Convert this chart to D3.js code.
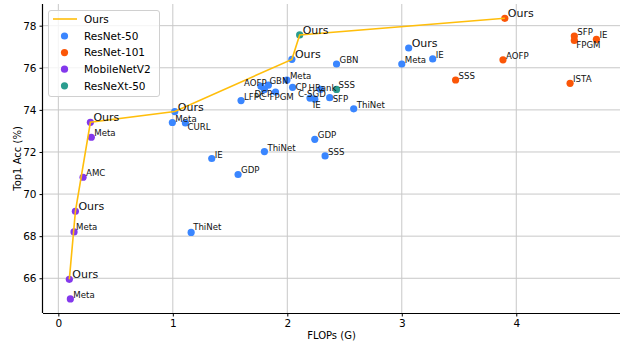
<!DOCTYPE html>
<html><head><meta charset="utf-8">
<script src="https://cdn.jsdelivr.net/npm/d3@7"></script>
<style>body{margin:0;background:#fff}svg{display:block;font-family:"DejaVu Sans",sans-serif}</style>
</head><body><svg id="c" width="621" height="341"></svg>
<script>
// ---- data ----
const seriesNames = ["ResNet-50", "ResNet-101", "MobileNetV2", "ResNeXt-50"];
const seriesColors = ["#3a86ff", "#fb5607", "#8338ec", "#2a9d8f"];

const r50Labels = ["Ours","Meta","CURL","IE","GDP","ThiNet","GDP","SSS","ThiNet","LFPC","AOFP","GBN","DCP","FPGM","Meta","CP","C-SGD","IE","HRank","SFP","ThiNet","GBN","Ours","Meta","Ours","IE"];
const r50Flops  = [1.017,0.996,1.11,1.34,1.57,1.80,2.24,2.33,1.16,1.596,1.77,1.835,1.80,1.897,1.997,2.046,2.198,2.24,2.29,2.37,2.58,2.43,2.04,3.00,3.06,3.27];
const r50Acc    = [73.92,73.40,73.38,71.69,70.93,72.02,72.60,71.81,68.18,74.44,75.12,75.18,74.97,74.85,75.42,75.07,74.56,74.51,74.98,74.58,74.05,76.18,76.40,76.18,76.94,76.42];

const r101Labels = ["Ours","AOFP","SSS","ISTA","SFP","FPGM","IE"];
const r101Flops  = [3.90,3.884,3.47,4.47,4.507,4.507,4.70];
const r101Acc    = [78.35,76.38,75.42,75.26,77.51,77.30,77.35];

const mbLabels = ["Ours","Meta","Meta","Ours","AMC","Meta","Ours"];
const mbFlops  = [0.096,0.105,0.137,0.149,0.216,0.288,0.28];
const mbAcc    = [65.95,65.02,68.20,69.18,70.80,72.70,73.41];

const rxLabels = ["Ours","SSS"];
const rxFlops  = [2.108,2.43];
const rxAcc    = [77.56,74.97];

const oursFlops = [0.096,0.149,0.28,1.017,2.04,2.108,3.90];
const oursAcc   = [65.95,69.18,73.41,73.92,76.40,77.56,78.35];

const xTicks = [0,1,2,3,4];
const yTicks = [66,68,70,72,74,76,78];

// label nudges (pixels) — styling only
const nudges = {
  "0-2":[2,7], "0-10":[-17,0], "0-11":[1,-1], "0-12":[-10,8], "0-13":[-6,8],
  "0-15":[3,3], "0-16":[-12,-1], "0-17":[-2,9], "0-18":[-12,2], "0-19":[3,4],
  "1-5":[2,8], "3-1":[2,-1], "2-2":[2,-2], "0-8":[2,-2]
};

// ---- chart ----
const svg = d3.select("#c");
const L=43, R=620, T=4, B=313;
const x = d3.scaleLinear().domain([-0.134, 4.906]).range([L, R]);
const y = d3.scaleLinear().domain([64.35, 79.03]).range([B, T]);

// grid
svg.append("g").selectAll("line").data(xTicks).join("line")
  .attr("x1", d=>x(d)).attr("x2", d=>x(d)).attr("y1", T).attr("y2", B)
  .attr("stroke", "#c8c8c8").attr("stroke-width", 1);
svg.append("g").selectAll("line").data(yTicks).join("line")
  .attr("x1", L).attr("x2", R).attr("y1", d=>y(d)).attr("y2", d=>y(d))
  .attr("stroke", "#c8c8c8").attr("stroke-width", 1);

// axes
const xa = svg.append("g").attr("transform", `translate(0,${B})`)
  .call(d3.axisBottom(x).tickValues(xTicks).tickSize(3.5).tickPadding(3).tickFormat(d3.format("d")));
const ya = svg.append("g").attr("transform", `translate(${L},0)`)
  .call(d3.axisLeft(y).tickValues(yTicks).tickSize(3.5).tickPadding(3).tickFormat(d3.format("d")));
[xa, ya].forEach(a=>{
  a.select(".domain").attr("stroke", "#000").attr("stroke-width", 1.2);
  a.selectAll(".tick line").attr("stroke", "#000");
  a.selectAll(".tick text").attr("font-size", 10.5).attr("fill", "#000").attr("font-family", "DejaVu Sans");
});
xa.select(".domain").attr("d", `M${L},0.5H${R}`);
ya.select(".domain").attr("d", `M-0.5,${T}V${B}`);

svg.append("text").attr("x", (L+R)/2).attr("y", 339).attr("text-anchor", "middle")
  .attr("font-size", 10).text("FLOPs (G)");
svg.append("text").attr("transform", `translate(21,${(T+B)/2}) rotate(-90)`)
  .attr("text-anchor", "middle").attr("font-size", 10).text("Top1 Acc (%)");

// points
const allSeries = [
  [r50Labels, r50Flops, r50Acc],
  [r101Labels, r101Flops, r101Acc],
  [mbLabels, mbFlops, mbAcc],
  [rxLabels, rxFlops, rxAcc]
];
allSeries.forEach(([lab, fx, ay], si)=>{
  svg.append("g").selectAll("circle").data(fx.map((f,i)=>({f, a:ay[i]}))).join("circle")
    .attr("cx", d=>x(d.f)).attr("cy", d=>y(d.a)).attr("r", 3.6)
    .attr("fill", seriesColors[si]);
});

// ours line
svg.append("path").datum(oursFlops.map((f,i)=>[f, oursAcc[i]]))
  .attr("d", d3.line().x(d=>x(d[0])).y(d=>y(d[1])))
  .attr("fill", "none").attr("stroke", "#ffbe0b").attr("stroke-width", 1.6);

// labels
allSeries.forEach(([lab, fx, ay], si)=>{
  lab.forEach((t,i)=>{
    const big = t === "Ours";
    const n = nudges[`${si}-${i}`] || [3,-1];
    svg.append("text").attr("x", x(fx[i]) + n[0]).attr("y", y(ay[i]) + n[1])
      .attr("font-size", big ? 11 : 8.6).attr("fill", "#111").text(t);
  });
});

// legend
const lg = svg.append("g");
lg.append("rect").attr("x", 48.5).attr("y", 10.5).attr("width", 111).attr("height", 86)
  .attr("rx", 2.5).attr("fill", "#fff").attr("fill-opacity", 0.8).attr("stroke", "#d0d0d0");
lg.append("line").attr("x1", 53).attr("x2", 77).attr("y1", 19).attr("y2", 19)
  .attr("stroke", "#ffbe0b").attr("stroke-width", 1.6);
lg.append("text").attr("x", 84).attr("y", 22.8).attr("font-size", 10.5).text("Ours");
seriesNames.forEach((s,i)=>{
  const yy = 36 + i*16.6;
  lg.append("circle").attr("cx", 64.5).attr("cy", yy).attr("r", 3.6).attr("fill", seriesColors[i]);
  lg.append("text").attr("x", 84).attr("y", yy+3.8).attr("font-size", 10.5).text(s);
});
</script></body></html>
